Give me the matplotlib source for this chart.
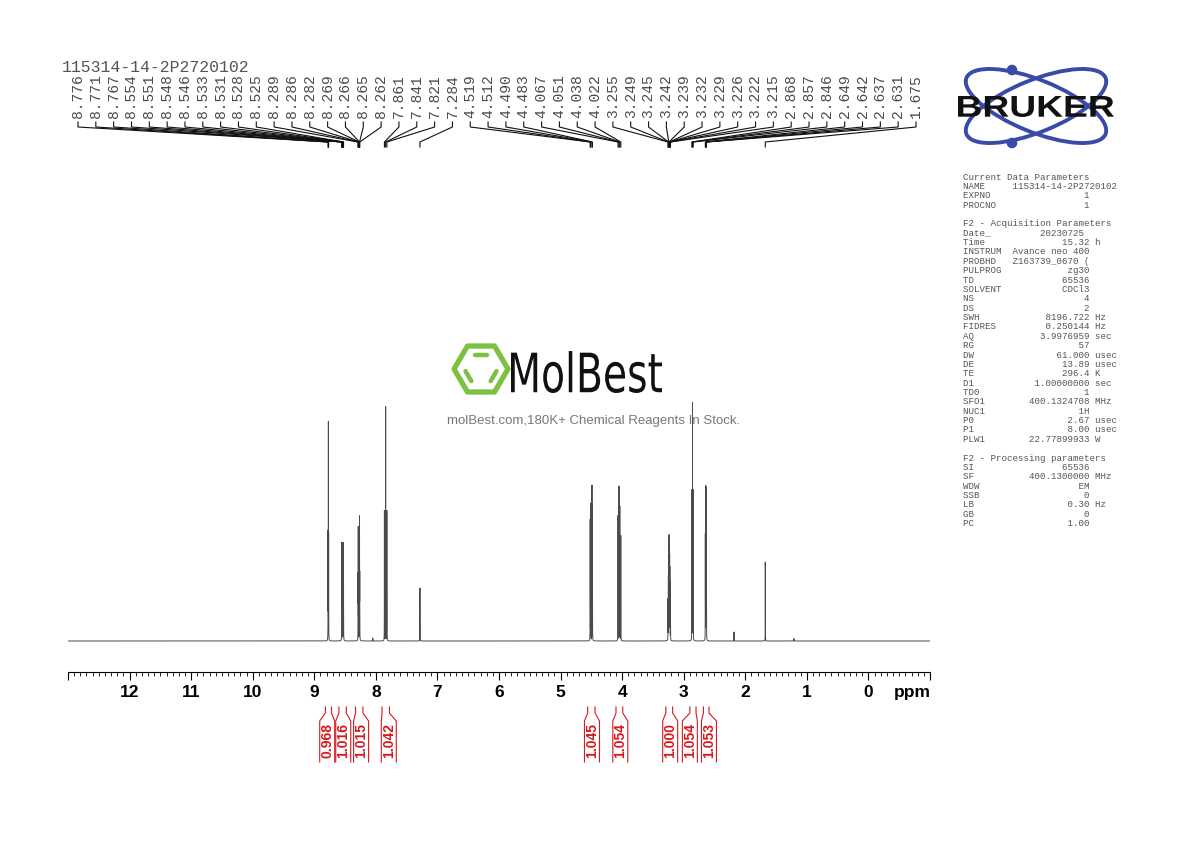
import numpy as np
import matplotlib
matplotlib.use("Agg")
import matplotlib.pyplot as plt
from matplotlib.patches import Ellipse, Circle, PathPatch, Polygon
from matplotlib.textpath import TextPath
from matplotlib.font_manager import FontProperties
from matplotlib.transforms import Affine2D
from matplotlib.ticker import FixedLocator, MultipleLocator, FuncFormatter

# ---------------- data ----------------
sample_name = "115314-14-2P2720102"

peak_ppm = [8.776, 8.771, 8.767,
            8.554, 8.551, 8.548, 8.546, 8.533, 8.531, 8.528, 8.525,
            8.289, 8.286, 8.282, 8.269, 8.266, 8.265, 8.262,
            7.861, 7.841, 7.821,
            7.284,
            4.519, 4.512, 4.490, 4.483,
            4.067, 4.051, 4.038, 4.022,
            3.255, 3.249, 3.245, 3.242, 3.239, 3.232, 3.229, 3.226, 3.222, 3.215,
            2.868, 2.857, 2.846,
            2.649, 2.642, 2.637, 2.631,
            1.675]
peak_height = [105, 213, 100,
               50, 90, 55, 60, 55, 85, 70, 50,
               60, 108, 60, 70, 82, 82, 60,
               130, 234, 130,
               53,
               120, 136, 154, 135,
               125, 154, 134, 105,
               40, 60, 75, 85, 97, 90, 75, 65, 55, 35,
               150, 237, 150,
               105, 150, 148, 100,
               79]
minor_ppm = [8.05, 2.183, 1.21]
minor_height = [3, 9, 2.5]

integral_values = ["0.968", "1.016", "1.015", "1.042", "1.045", "1.054", "1.000", "1.054", "1.053"]
integral_from = [8.82, 8.60, 8.33, 7.90, 4.56, 4.10, 3.29, 2.90, 2.68]
integral_to = [8.72, 8.48, 8.21, 7.78, 4.44, 3.99, 3.18, 2.80, 2.59]
integral_label_ppm = [8.79, 8.53, 8.24, 7.79, 4.49, 4.03, 3.22, 2.90, 2.59]

axis_major = list(range(-1, 14))
axis_labelled = list(range(0, 13))

current_params = [("NAME", sample_name, ""), ("EXPNO", "1", ""), ("PROCNO", "1", "")]
acq_params = [("Date_", "20230725", ""), ("Time", "15.32", "h"), ("INSTRUM", "Avance neo 400", ""),
              ("PROBHD", "Z163739_0670 (", ""), ("PULPROG", "zg30", ""), ("TD", "65536", ""),
              ("SOLVENT", "CDCl3", ""), ("NS", "4", ""), ("DS", "2", ""), ("SWH", "8196.722", "Hz"),
              ("FIDRES", "0.250144", "Hz"), ("AQ", "3.9976959", "sec"), ("RG", "57", ""),
              ("DW", "61.000", "usec"), ("DE", "13.89", "usec"), ("TE", "296.4", "K"),
              ("D1", "1.00000000", "sec"), ("TD0", "1", ""), ("SFO1", "400.1324708", "MHz"),
              ("NUC1", "1H", ""), ("P0", "2.67", "usec"), ("P1", "8.00", "usec"),
              ("PLW1", "22.77899933", "W")]
proc_params = [("SI", "65536", ""), ("SF", "400.1300000", "MHz"), ("WDW", "EM", ""),
               ("SSB", "0", ""), ("LB", "0.30", "Hz"), ("GB", "0", ""), ("PC", "1.00", "")]

# ---------------- figure ----------------
W, H = 1190, 842
fig = plt.figure(figsize=(W / 100, H / 100), dpi=100)
fig.patch.set_facecolor("white")

ov = fig.add_axes([0, 0, 1, 1], zorder=0)
ov.set_xlim(0, W)
ov.set_ylim(H, 0)
ov.axis("off")

# spectrum axes: bottom spine at y=672 px, baseline at y=641 px
ax = fig.add_axes([68 / W, (H - 672) / H, 862 / W, (672 - 150) / H], zorder=2)
ax.patch.set_visible(False)
ax.set_xlim(13, -1)
ax.set_ylim(-31, 491)
for s in ["top", "left", "right"]:
    ax.spines[s].set_visible(False)
ax.spines["bottom"].set_linewidth(0.8)
ax.yaxis.set_visible(False)
ax.xaxis.set_major_locator(FixedLocator(axis_major))
ax.xaxis.set_minor_locator(MultipleLocator(0.1))
ax.xaxis.set_major_formatter(FuncFormatter(lambda v, p: str(int(round(v))) if int(round(v)) in axis_labelled else ""))
ax.tick_params(axis="x", which="major", direction="out", length=6, width=0.8, pad=3.5,
               labelsize=12.5)
ax.tick_params(axis="x", which="minor", direction="out", length=3, width=0.6)
for lab in ax.get_xticklabels():
    lab.set_fontfamily("Liberation Sans")
    lab.set_fontweight("bold")
ax.text((912 - 68) / 862, -0.04, "ppm", transform=ax.transAxes, ha="center", va="center",
        fontsize=12.5, fontweight="bold", family="Liberation Sans")

# spectrum (sum of Lorentzian lines)
grid = np.linspace(13, -1, 140001)
hw = 0.0008
spec = np.zeros_like(grid)
for p, h in zip(peak_ppm + minor_ppm, peak_height + minor_height):
    spec += h * hw ** 2 / ((grid - p) ** 2 + hw ** 2)
ax.plot(grid, spec, color="#4a4a4a", lw=0.7, zorder=3)


def ppm2px(p):
    return ax.transData.transform((p, 0))[0]


# ---------------- peak labels ----------------
mono = "Liberation Mono"
ov.text(62, 68, sample_name, family=mono, fontsize=11.9, color="#555555", ha="left", va="center")
n = len(peak_ppm)
x_first, x_last = 78.0, 916.0
for i, p in enumerate(peak_ppm):
    xl = x_first + i * (x_last - x_first) / (n - 1)
    ov.text(xl, 118, f"{p:.3f}", family=mono, fontsize=10.5, color="#4a4a4a",
            rotation=90, ha="center", va="bottom")
    xp = ppm2px(p)
    ov.plot([xl, xl, xp, xp], [122, 127, 142, 147], color="#111111", lw=0.8,
            solid_joinstyle="miter")

# ---------------- integrals ----------------
red = "#d7191c"
bw = 7.5
for val, a, b, c in zip(integral_values, integral_from, integral_to, integral_label_ppm):
    xa, xb, xc = ppm2px(a), ppm2px(b), ppm2px(c)
    ov.plot([xa, xa, xc - bw, xc - bw], [707, 713, 721, 762], color=red, lw=0.8)
    ov.plot([xb, xb, xc + bw, xc + bw], [707, 713, 721, 762], color=red, lw=0.8)
    ov.text(xc, 741, val, rotation=90, ha="center", va="center", color=red,
            fontsize=10, fontweight="bold", family="Liberation Sans")

# ---------------- parameter block ----------------
lines = ["Current Data Parameters"]
for nm, v, u in current_params:
    lines.append(f"{nm:<9}{v}" if nm == "NAME" else f"{nm:<8}{v:>15}" + (f" {u}" if u else ""))
lines.append("")
lines.append("F2 - Acquisition Parameters")
for nm, v, u in acq_params:
    width = 14 if nm == "Date_" else 15
    lines.append(f"{nm:<8}{v:>{width}}" + (f" {u}" if u else ""))
lines.append("")
lines.append("F2 - Processing parameters")
for nm, v, u in proc_params:
    lines.append(f"{nm:<8}{v:>15}" + (f" {u}" if u else ""))
for i, ln in enumerate(lines):
    if ln:
        ov.text(963, 177 + i * 9.37, ln, family=mono, fontsize=6.6, color="#555555",
                ha="left", va="center")


# ---------------- logos ----------------
def fit_text(s, x0, x1, ytop, ybot, prop, color):
    tp = TextPath((0, 0), s, size=100, prop=prop)
    bb = tp.get_extents()
    sx = (x1 - x0) / bb.width
    sy = (ybot - ytop) / bb.height
    tr = Affine2D().translate(-bb.x0, -bb.y0).scale(sx, -sy).translate(x0, ybot)
    ov.add_patch(PathPatch(tr.transform_path(tp), fc=color, ec="none", zorder=3))


# Bruker
blue = "#3a4aa8"
for ang in (22, -22):
    ov.add_patch(Ellipse((1036, 106), 150, 52, angle=ang, fill=False, ec=blue, lw=2.8, zorder=2))
ov.add_patch(Circle((1012, 70), 4.6, color=blue, zorder=2))
ov.add_patch(Circle((1012, 143), 4.6, color=blue, zorder=2))
fit_text("BRUKER", 958, 1114, 96, 117, FontProperties(family="Liberation Sans", weight="bold"), "#111111")

# MolBest watermark
green = "#7cc142"
cx, cy, rx, ry = 481, 369, 27, 23
hexv = [(cx - rx, cy), (cx - rx / 2, cy - ry), (cx + rx / 2, cy - ry),
        (cx + rx, cy), (cx + rx / 2, cy + ry), (cx - rx / 2, cy + ry)]
ov.add_patch(Polygon(hexv, closed=True, fill=False, ec=green, lw=3.8, joinstyle="round", zorder=1))
for (i, j) in [(1, 2), (3, 4), (5, 0)]:
    p1 = np.array(hexv[i], float)
    p2 = np.array(hexv[j], float)
    c = np.array([cx, cy], float)
    q1 = c + 0.62 * (p1 - c)
    q2 = c + 0.62 * (p2 - c)
    d = q2 - q1
    q1, q2 = q1 + 0.15 * d, q2 - 0.15 * d
    ov.plot([q1[0], q2[0]], [q1[1], q2[1]], color=green, lw=3.2, solid_capstyle="round", zorder=1)
fit_text("MolBest", 511, 662, 351, 393, FontProperties(family="DejaVu Sans"), "#111111")
ov.text(594, 421, "molBest.com,180K+ Chemical Reagents In Stock.", family="Liberation Sans",
        fontsize=9.5, color="#777777", ha="center", va="center", zorder=1)

fig.savefig("out.png", dpi=100, facecolor="white")
